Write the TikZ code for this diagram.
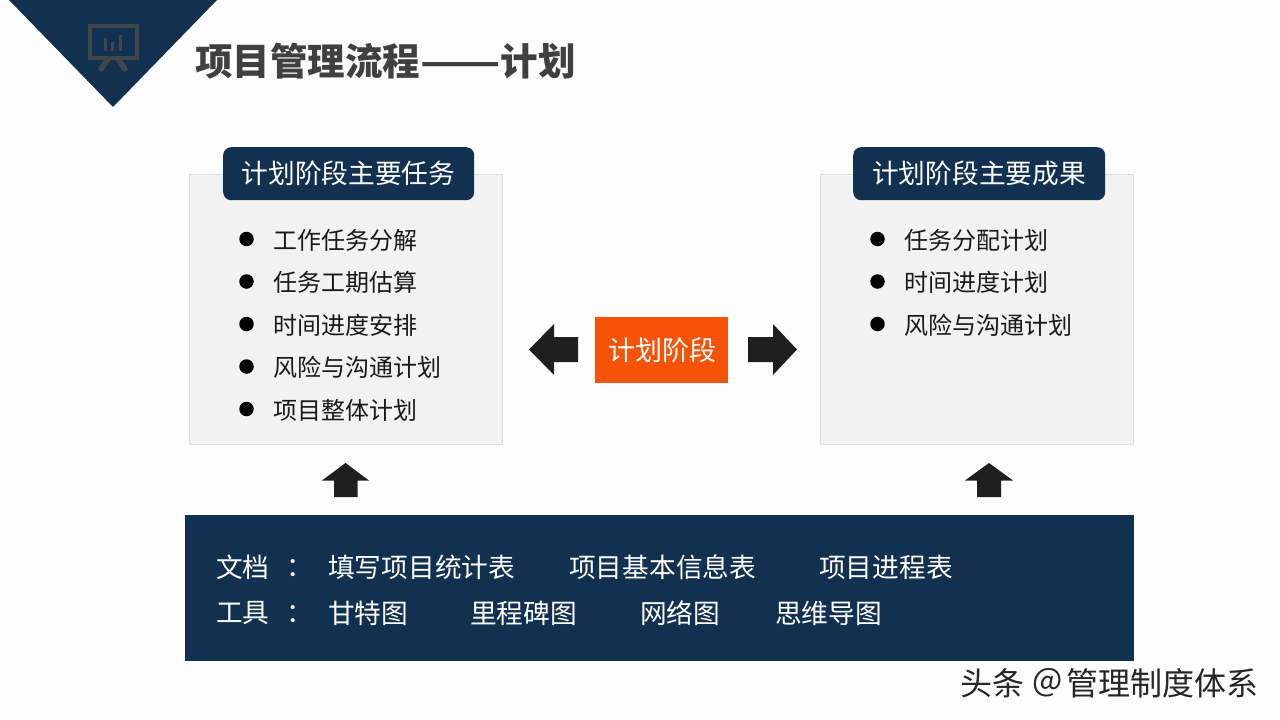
\documentclass[tikz,border=0pt]{standalone}
\usepackage{fontspec}
\setmainfont{Noto Sans CJK SC}
\definecolor{navy}{HTML}{12304F}
\definecolor{panel}{HTML}{F2F2F2}
\definecolor{panelline}{HTML}{DDDDDD}
\definecolor{orangebox}{HTML}{F65208}
\definecolor{arrowdark}{HTML}{1F1F1F}
\definecolor{icongray}{HTML}{3F464C}
\definecolor{titlegray}{HTML}{404040}
\definecolor{bgwhite}{HTML}{FDFDFD}
\tikzset{
  x=1pt,y=-1pt,
  panelbox/.style={fill=panel,draw=panelline,line width=0.8pt},
  headbox/.style={fill=navy,rounded corners=8pt},
  headtext/.style={text=white,font=\fontsize{26.7pt}{30pt}\selectfont,inner sep=0pt},
  itemtext/.style={anchor=west,text=black!90,font=\fontsize{24pt}{28pt}\selectfont,inner sep=0pt},
  bandtext/.style={anchor=west,text=white,font=\fontsize{26.7pt}{30pt}\selectfont,inner sep=0pt},
  bulletdot/.style={circle,fill=black,minimum size=14.5pt,inner sep=0pt},
  blockarrow/.style={fill=arrowdark},
  marktext/.style={anchor=west,inner sep=0pt,text=black!85,font=\fontsize{32pt}{36pt}\selectfont},
}
\begin{document}
\begin{tikzpicture}
\useasboundingbox (0,0) rectangle (1280,720);
\fill[bgwhite] (0,0) rectangle (1280,720);
% corner
\fill[navy] (9,0) -- (217,0) -- (113,107) -- cycle;
\begin{scope}[icongray]
\draw[line width=4pt] (90,26) rectangle (136.5,57.5);
\draw[line width=3pt] (105,51) -- (105,38);
\draw[line width=3pt] (112.5,51) -- (112.5,42);
\draw[line width=3pt] (120.5,51) -- (120.5,35);
\draw[line width=5.5pt,line cap=round] (108,59) -- (101,69);
\draw[line width=5.5pt,line cap=round] (118,59) -- (125,69);
\end{scope}
\node[anchor=west,inner sep=0pt,text=titlegray,font=\fontsize{37.5pt}{42pt}\selectfont\bfseries] (title) at (195,61) {项目管理流程\scalebox{1.25}[1]{——}计划};
% panels
\node[panelbox,minimum width=313pt,minimum height=270pt,anchor=north west,inner sep=0pt] (lpanel) at (189,174) {};
\node[panelbox,minimum width=313pt,minimum height=270pt,anchor=north west,inner sep=0pt] (rpanel) at (820,174) {};
\node[headbox,minimum width=251pt,minimum height=53pt,anchor=north west,inner sep=0pt] (lhead) at (223,147) {};
\node[headbox,minimum width=252pt,minimum height=53pt,anchor=north west,inner sep=0pt] (rhead) at (853,147) {};
\node[headtext] (lheadt) at (348.5,173) {计划阶段主要任务};
\node[headtext] (rheadt) at (979,173) {计划阶段主要成果};
% left list
\node[bulletdot] (b1) at (246.5,239) {};
\node[bulletdot] (b2) at (246.5,281.5) {};
\node[bulletdot] (b3) at (246.5,324) {};
\node[bulletdot] (b4) at (246.5,366.5) {};
\node[bulletdot] (b5) at (246.5,409) {};
\node[itemtext] (l1) at (273,240) {工作任务分解};
\node[itemtext] (l2) at (273,282) {任务工期估算};
\node[itemtext] (l3) at (273,325) {时间进度安排};
\node[itemtext] (l4) at (273,367) {风险与沟通计划};
\node[itemtext] (l5) at (273,410) {项目整体计划};
% right list
\node[bulletdot] (c1) at (877.5,239) {};
\node[bulletdot] (c2) at (877.5,281.5) {};
\node[bulletdot] (c3) at (877.5,324) {};
\node[itemtext] (r1) at (904,240) {任务分配计划};
\node[itemtext] (r2) at (904,282) {时间进度计划};
\node[itemtext] (r3) at (904,325) {风险与沟通计划};
% centre
\node[fill=orangebox,minimum width=133pt,minimum height=66pt,anchor=north west,inner sep=0pt] (centre) at (595,317) {};
\node[text=white,inner sep=0pt,font=\fontsize{27pt}{30pt}\selectfont] (centret) at (662,350) {计划阶段};
% arrows
\fill[blockarrow] (529,349.5) -- (554,324) -- (554,337) -- (578,337) -- (578,362) -- (554,362) -- (554,375) -- cycle;
\fill[blockarrow] (797,349.5) -- (773,324) -- (773,337) -- (748,337) -- (748,362) -- (773,362) -- (773,375) -- cycle;
\fill[blockarrow] (345.5,463) -- (322,480.5) -- (334,480.5) -- (334,497) -- (357.5,497) -- (357.5,480.5) -- (369,480.5) -- cycle;
\fill[blockarrow] (989,463) -- (965,480.5) -- (977,480.5) -- (977,497) -- (1001,497) -- (1001,480.5) -- (1013,480.5) -- cycle;
% band
\node[fill=navy,minimum width=949pt,minimum height=146pt,anchor=north west,inner sep=0pt] (band) at (185,515) {};
\node[bandtext] (d0) at (216,567) {文档};
\node[bandtext] (d1) at (286,568) {：};
\node[bandtext] (d2) at (328,567) {填写项目统计表};
\node[bandtext] (d3) at (569,567) {项目基本信息表};
\node[bandtext] (d4) at (819,567) {项目进程表};
\node[bandtext] (t0) at (216,613) {工具};
\node[bandtext] (t1) at (286,614) {：};
\node[bandtext] (t2) at (328,613) {甘特图};
\node[bandtext] (t3) at (470,613) {里程碑图};
\node[bandtext] (t4) at (640,613) {网络图};
\node[bandtext] (t5) at (775,613) {思维导图};
% watermark
\node[marktext] (mark1) at (960,683) {头条};
\node[marktext] (mark2) at (1032,683) {@};
\node[marktext] (mark3) at (1066,683) {管理制度体系};
\end{tikzpicture}
\end{document}
